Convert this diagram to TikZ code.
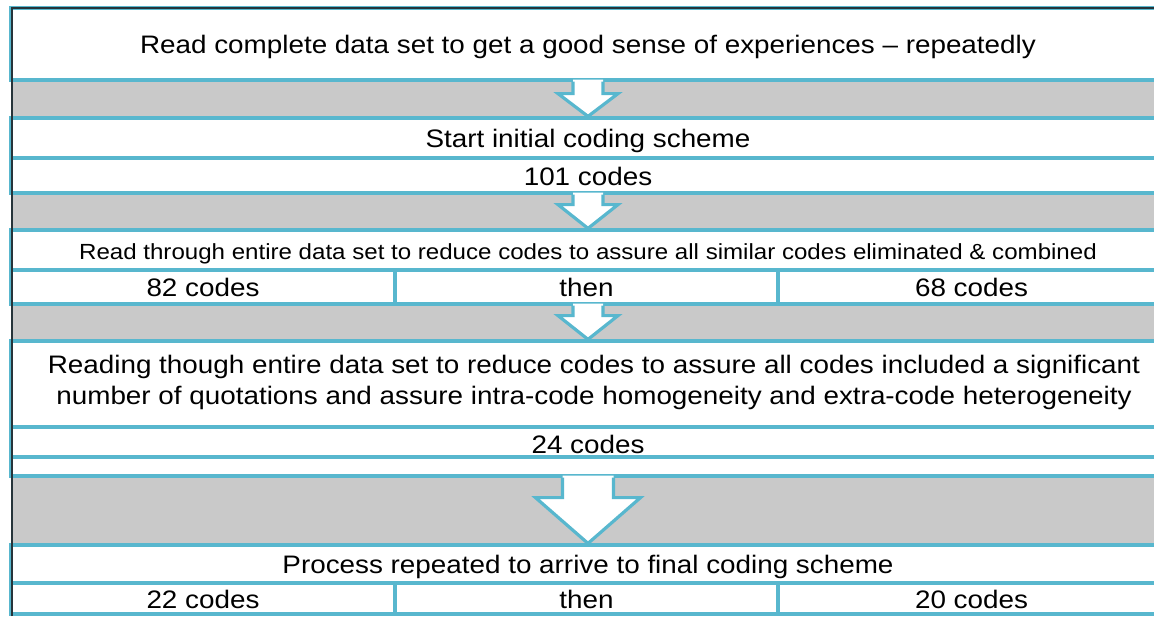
\documentclass[tikz,border=0pt]{standalone}
\usepackage{fontspec}
\setmainfont{Liberation Sans}[FakeStretch=1.1]
\usetikzlibrary{calc}
\definecolor{boxblue}{RGB}{88,183,206}
\definecolor{bandgray}{RGB}{201,201,201}
\definecolor{framedark}{RGB}{38,52,58}
\begin{document}
\begin{tikzpicture}[x=1pt,y=-1pt,
  box/.style={draw=boxblue, line width=3.2pt, fill=white, inner sep=0pt,
    font=\fontsize{25.3}{31}\selectfont, text=black, text height=19pt, text depth=0pt},
  smalltext/.style={font=\fontsize{21.9}{25}\selectfont},
  label/.style={inner sep=0pt, align=center, font=\fontsize{25.3}{31}\selectfont, text=black},
  arrowfill/.style={fill=white},
  arrowline/.style={draw=boxblue, line width=3.2pt, line join=miter, line cap=butt}]
\useasboundingbox (0,0) rectangle (1154,616);
\clip (0,0) rectangle (1154,616);
\fill[bandgray] (11,8) rectangle (1165,616);
% boxes
\node[box, minimum width=1154, minimum height=72] (b1) at (588,44) {Read complete data set to get a good sense of experiences -- repeatedly};
\node[box, minimum width=1154, minimum height=40] (b2) at (588,138) {Start initial coding scheme};
\node[box, minimum width=1154, minimum height=35] (b3) at (588,175.5) {101 codes};
\node[box, smalltext, minimum width=1154, minimum height=40] (b4) at (588,250) {Read through entire data set to reduce codes to assure all similar codes eliminated \& combined};
\node[box, minimum width=384, minimum height=34] (b5a) at (203,287) {82 codes};
\node[box, minimum width=383, minimum height=34] (b5b) at (586.5,287) {then};
\node[box, minimum width=387, minimum height=34] (b5c) at (971.5,287) {68 codes};
\node[box, minimum width=1154, minimum height=86] (b6) at (588,384) {};
\node[label] (t6) at (594,382.5) {Reading though entire data set to reduce codes to assure all codes included a significant\\number of quotations and assure intra-code homogeneity and extra-code heterogeneity};
\node[box, minimum width=1154, minimum height=33] (b7) at (588,443.5) {24 codes};
\node[box, minimum width=1154, minimum height=13] (strip) at (588,466.5) {};
\node[box, minimum width=1154, minimum height=38] (b8) at (588,564) {Process repeated to arrive to final coding scheme};
\node[box, minimum width=384, minimum height=31] (b9a) at (203,598.5) {22 codes};
\node[box, minimum width=383, minimum height=31] (b9b) at (586.5,598.5) {then};
\node[box, minimum width=387, minimum height=31] (b9c) at (971.5,598.5) {20 codes};
% block arrows
\newcommand\blockarrow[5]{% top, bottom, shaft half, shoulder drop, head half
  \coordinate (ta) at (#1.south -| #2.north);
  \fill[arrowfill] ($(ta)+(-#3,-2)$) -- ($(ta)+(-#3,#4)$) -- ($(ta)+(-#5,#4)$) -- (#2.north)
     -- ($(ta)+(#5,#4)$) -- ($(ta)+(#3,#4)$) -- ($(ta)+(#3,-2)$) -- cycle;
  \draw[arrowline] ($(ta)+(-#3,0)$) -- ($(ta)+(-#3,#4)$) -- ($(ta)+(-#5,#4)$) -- (#2.north)
     -- ($(ta)+(#5,#4)$) -- ($(ta)+(#3,#4)$) -- ($(ta)+(#3,0)$);
}
\blockarrow{b1}{b2}{15}{12}{30}
\blockarrow{b3}{b4}{15}{10}{30}
\blockarrow{b5b}{b6}{15}{10}{30}
\blockarrow{strip}{b8}{25.5}{20}{52.5}
% outer frame
\draw[framedark, line width=1.5pt] (12,616) -- (12,8) -- (1165,8);
\end{tikzpicture}
\end{document}
